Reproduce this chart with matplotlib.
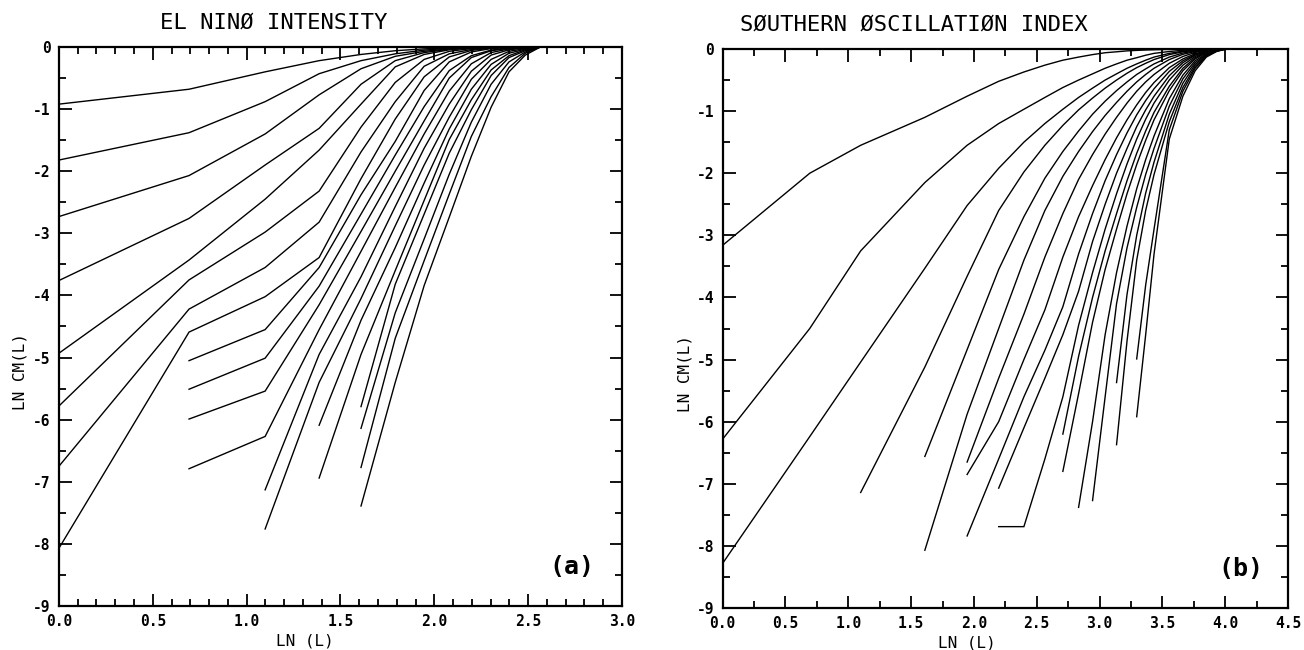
import numpy as np
import matplotlib
matplotlib.use("Agg")
import matplotlib.pyplot as plt
from matplotlib.ticker import MultipleLocator, FormatStrFormatter

plt.rcParams['axes.unicode_minus'] = False
plt.rcParams['font.family'] = ['DejaVu Sans Mono']

# ---- El Nino intensity: distances L = 1..13 ----
nino_L = np.arange(1, 14)
# index into nino_L where each embedding dimension's curve begins
nino_first = [0, 0, 0, 0, 0, 0, 0, 0, 1, 1, 1, 1, 2, 2, 3, 3, 4, 4, 4, 4]
nino_lncm = [
    [-0.92, -0.68, -0.40, -0.22, -0.12, -0.06, -0.03, -0.015, -0.005, 0, 0, 0, 0],
    [-1.82, -1.38, -0.88, -0.43, -0.22, -0.11, -0.05, -0.02, -0.008, 0, 0, 0, 0],
    [-2.73, -2.07, -1.40, -0.77, -0.35, -0.15, -0.07, -0.03, -0.01, -0.003, 0, 0, 0],
    [-3.76, -2.76, -1.90, -1.31, -0.60, -0.22, -0.09, -0.035, -0.012, -0.004, 0, 0, 0],
    [-4.93, -3.43, -2.45, -1.66, -0.92, -0.32, -0.12, -0.045, -0.015, -0.005, 0, 0, 0],
    [-5.78, -3.75, -2.98, -2.32, -1.29, -0.57, -0.20, -0.07, -0.025, -0.008, 0, 0, 0],
    [-6.75, -4.22, -3.55, -2.82, -1.69, -0.88, -0.31, -0.11, -0.04, -0.012, -0.004, 0, 0],
    [-8.07, -4.59, -4.02, -3.39, -2.12, -1.16, -0.48, -0.16, -0.055, -0.018, -0.005, 0, 0],
    [-5.05, -4.55, -3.55, -2.38, -1.52, -0.70, -0.24, -0.08, -0.025, -0.008, 0, 0],
    [-5.51, -5.01, -3.85, -2.69, -1.74, -0.96, -0.38, -0.14, -0.05, -0.015, -0.004, 0],
    [-5.99, -5.54, -4.15, -2.97, -2.00, -1.19, -0.50, -0.17, -0.06, -0.02, -0.006, 0],
    [-6.79, -6.27, -4.55, -3.29, -2.26, -1.40, -0.71, -0.27, -0.09, -0.03, -0.01, 0],
    [-7.13, -4.95, -3.70, -2.57, -1.63, -0.92, -0.39, -0.13, -0.045, -0.015, 0],
    [-7.76, -5.40, -4.05, -2.88, -1.90, -1.13, -0.52, -0.20, -0.07, -0.025, 0],
    [-6.09, -4.40, -3.23, -2.19, -1.32, -0.68, -0.28, -0.10, -0.035, 0],
    [-6.94, -4.95, -3.60, -2.47, -1.49, -0.85, -0.37, -0.14, -0.045, 0],
    [-5.79, -3.82, -2.69, -1.71, -1.01, -0.46, -0.17, -0.06, 0],
    [-6.14, -4.28, -3.09, -2.05, -1.21, -0.60, -0.24, -0.08, 0],
    [-6.77, -4.69, -3.44, -2.37, -1.44, -0.80, -0.33, -0.10, 0],
    [-7.39, -5.40, -3.84, -2.74, -1.76, -0.97, -0.40, -0.13, 0],
]

# ---- Southern Oscillation Index: distances L ----
soi_L = np.array([1, 2, 3, 5, 7, 9, 11, 13, 15, 17, 19, 21, 23, 25, 27, 29, 31,
                  35, 39, 43, 47, 51, 55])
soi_first = [0, 0, 0, 2, 3, 3, 4, 4, 4, 5, 5, 8, 8, 9, 10, 12, 12, 14, 14]
soi_lncm = [
    [-3.16, -2.00, -1.55, -1.10, -0.76, -0.52, -0.37, -0.26, -0.18, -0.13, -0.09, -0.06,
     -0.045, -0.03, -0.022, -0.016, -0.012, -0.006, -0.003, -0.001, 0, 0, 0],
    [-6.28, -4.50, -3.25, -2.15, -1.55, -1.20, -0.97, -0.78, -0.62, -0.50, -0.40, -0.31,
     -0.24, -0.18, -0.14, -0.10, -0.07, -0.04, -0.02, -0.01, -0.004, 0, 0],
    [-8.28, -6.24, -5.04, -3.53, -2.52, -1.92, -1.50, -1.20, -0.97, -0.78, -0.63, -0.50,
     -0.40, -0.31, -0.24, -0.18, -0.13, -0.07, -0.035, -0.015, -0.005, 0, 0],
    [-7.14, -5.12, -3.66, -2.60, -1.98, -1.55, -1.23, -0.98, -0.79, -0.63, -0.50, -0.39,
     -0.30, -0.23, -0.17, -0.09, -0.045, -0.02, -0.005, 0, 0],
    [-6.56, -4.84, -3.55, -2.70, -2.08, -1.65, -1.32, -1.05, -0.84, -0.67, -0.53, -0.41,
     -0.32, -0.24, -0.13, -0.065, -0.03, -0.01, 0, 0],
    [-8.07, -5.88, -4.50, -3.40, -2.60, -2.05, -1.65, -1.33, -1.07, -0.86, -0.68, -0.53,
     -0.41, -0.31, -0.17, -0.085, -0.04, -0.015, 0, 0],
    [-6.65, -5.30, -4.27, -3.35, -2.65, -2.10, -1.70, -1.37, -1.10, -0.87, -0.68, -0.53,
     -0.41, -0.23, -0.12, -0.055, -0.02, -0.005, 0],
    [-6.85, -6.00, -5.00, -4.20, -3.35, -2.70, -2.20, -1.78, -1.43, -1.14, -0.90, -0.70,
     -0.54, -0.30, -0.16, -0.075, -0.03, -0.01, 0],
    [-7.84, -6.60, -5.60, -4.85, -4.15, -3.30, -2.65, -2.12, -1.70, -1.35, -1.06, -0.83,
     -0.64, -0.36, -0.19, -0.09, -0.035, -0.01, 0],
    [-7.07, -6.10, -5.30, -4.60, -3.90, -3.10, -2.50, -2.00, -1.60, -1.25, -0.98, -0.76,
     -0.43, -0.22, -0.10, -0.04, -0.012, 0],
    [-7.69, -7.69, -6.60, -5.60, -4.45, -3.60, -2.90, -2.33, -1.85, -1.45, -1.13, -0.87,
     -0.50, -0.26, -0.12, -0.05, -0.015, 0],
    [-6.20, -4.95, -4.00, -3.25, -2.65, -2.12, -1.68, -1.32, -1.02, -0.60, -0.31, -0.14,
     -0.055, -0.015, 0],
    [-6.80, -5.55, -4.40, -3.55, -2.90, -2.33, -1.86, -1.47, -1.14, -0.67, -0.35, -0.16,
     -0.06, -0.02, 0],
    [-7.38, -6.00, -4.60, -3.60, -2.85, -2.25, -1.78, -1.40, -0.80, -0.42, -0.19, -0.075,
     -0.02, 0],
    [-7.27, -5.60, -4.10, -3.20, -2.55, -2.02, -1.60, -0.92, -0.48, -0.22, -0.085, -0.025, 0],
    [-5.37, -3.95, -3.00, -2.32, -1.82, -1.05, -0.55, -0.25, -0.095, -0.03, 0],
    [-6.37, -4.70, -3.40, -2.60, -2.02, -1.17, -0.62, -0.28, -0.105, -0.03, 0],
    [-4.99, -3.80, -2.90, -1.30, -0.68, -0.31, -0.115, -0.035, 0],
    [-5.92, -4.60, -3.30, -1.45, -0.76, -0.35, -0.13, -0.04, 0],
]

titles = ["EL NINØ INTENSITY", "SØUTHERN ØSCILLATIØN INDEX"]
tags = ["(a)", "(b)"]

fig = plt.figure(figsize=(13.04, 6.5), dpi=100)
ax1 = fig.add_axes([0.0452, 0.0677, 0.4318, 0.860])
ax2 = fig.add_axes([0.5542, 0.0646, 0.4335, 0.860])


def draw_curves(ax, L, first, curves):
    lnL = np.log(L)
    for i0, y in zip(first, curves):
        ax.plot(lnL[i0:i0 + len(y)], y, color='black', lw=1.0, solid_joinstyle='miter')


def style_axes(ax, xmax, xminor):
    ax.set_xlim(0, xmax)
    ax.set_ylim(-9, 0)
    ax.xaxis.set_major_locator(MultipleLocator(0.5))
    ax.xaxis.set_minor_locator(MultipleLocator(xminor))
    ax.yaxis.set_major_locator(MultipleLocator(1))
    ax.yaxis.set_minor_locator(MultipleLocator(0.5))
    ax.xaxis.set_major_formatter(FormatStrFormatter('%.1f'))
    ax.yaxis.set_major_formatter(FormatStrFormatter('%d'))
    ax.tick_params(which='both', direction='in', top=True, right=True,
                   width=1.3, labelsize=10.5, pad=6)
    ax.tick_params(which='major', length=9)
    ax.tick_params(which='minor', length=5)
    for lab in ax.get_xticklabels() + ax.get_yticklabels():
        lab.set_fontweight('bold')
    for sp in ax.spines.values():
        sp.set_linewidth(1.6)


draw_curves(ax1, nino_L, nino_first, nino_lncm)
draw_curves(ax2, soi_L, soi_first, soi_lncm)
style_axes(ax1, 3.0, 0.1)
style_axes(ax2, 4.5, 0.25)

title_x = [0.179, 0.031]
tag_x = [0.911, 0.917]
for ax, title, tag, tx, gx in zip([ax1, ax2], titles, tags, title_x, tag_x):
    ax.text(tx, 1.025, title, transform=ax.transAxes, fontsize=16,
            ha='left', va='bottom')
    ax.text(gx, 0.07, tag, transform=ax.transAxes, fontsize=18,
            fontweight='bold', ha='center', va='center')
    ax.set_xlabel("LN (L)", fontsize=11.5)
    ax.set_ylabel("LN CM(L)", fontsize=11.5)

ax1.xaxis.set_label_coords(0.437, -0.05)
ax1.yaxis.set_label_coords(-0.056, 0.42)
ax2.xaxis.set_label_coords(0.432, -0.05)
ax2.yaxis.set_label_coords(-0.054, 0.42)

fig.savefig("out.png", dpi=100)
